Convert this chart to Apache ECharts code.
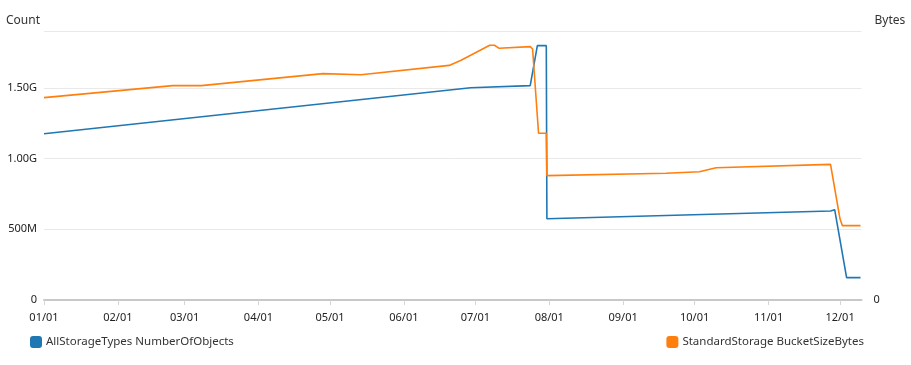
<!DOCTYPE html>
<html>
<head>
<meta charset="utf-8">
<script src="https://cdn.jsdelivr.net/npm/echarts@6/dist/echarts.min.js"></script>
<style>html,body{margin:0;padding:0;background:#fff}#c{width:911px;height:365px}</style>
</head>
<body>
<div id="c"></div>
<script>
const seriesNames = ['AllStorageTypes NumberOfObjects', 'StandardStorage BucketSizeBytes'];
const yTicks = ['0', '500M', '1.00G', '1.50G'];

const objectsDates = ['2023-01-01','2023-06-29','2023-07-24','2023-07-27','2023-07-30 18:00','2023-07-31','2023-11-27','2023-11-28 18:00','2023-12-03 18:00','2023-12-09 14:00'];
const objectsValues = [1.177e9,1.502e9,1.517e9,1.800e9,1.800e9,0.575e9,0.630e9,0.639e9,0.158e9,0.158e9];

const bytesDates = ['2023-01-01','2023-02-24','2023-03-08','2023-04-28','2023-05-14','2023-06-20','2023-06-25','2023-07-07','2023-07-09','2023-07-11','2023-07-24','2023-07-25','2023-07-27 12:00','2023-07-30 18:00','2023-07-31','2023-09-19','2023-10-03','2023-10-10','2023-11-27','2023-12-01','2023-12-02','2023-12-09 14:00'];
const bytesValues = [1.432e9,1.517e9,1.517e9,1.602e9,1.594e9,1.660e9,1.696e9,1.803e9,1.803e9,1.781e9,1.793e9,1.776e9,1.180e9,1.180e9,0.880e9,0.897e9,0.908e9,0.936e9,0.960e9,0.573e9,0.526e9,0.526e9];

const pairs = (d, v) => d.map((x, i) => [x, v[i]]);
const fmtY = v => { const i = Math.round(v / 5e8); return yTicks[i] !== undefined ? yTicks[i] : ''; };
const font = 'Noto Sans, sans-serif';

const chart = echarts.init(document.getElementById('c'));
chart.setOption({
  animation: false,
  textStyle: { fontFamily: font },
  grid: { left: 44, right: 49.5, top: 31.5, bottom: 65 },
  xAxis: {
    type: 'time',
    min: '2023-01-01',
    max: '2023-12-10',
    minInterval: 28 * 86400000,
    maxInterval: 31 * 86400000,
    axisLine: { lineStyle: { color: '#c8c8c8', width: 2 } },
    axisTick: { show: true, length: 5, lineStyle: { color: '#d5d5d5' } },
    axisLabel: { color: '#222', fontSize: 11, margin: 12, fontFamily: font, hideOverlap: false,
      formatter: v => echarts.time.format(v, '{MM}/{dd}', false) },
    splitLine: { show: false }
  },
  yAxis: [{
    type: 'value', min: 0, max: 1.9e9, interval: 5e8, position: 'left',
    name: 'Count', nameLocation: 'end', nameGap: 5,
    nameTextStyle: { color: '#333', fontSize: 12, align: 'right', padding: [0, 4, 0, 0], fontFamily: font },
    axisLine: { show: false }, axisTick: { show: false },
    axisLabel: { color: '#222', fontSize: 11, margin: 7, formatter: fmtY, fontFamily: font },
    splitLine: { lineStyle: { color: '#e9e9e9', width: 1 } }
  }, {
    type: 'value', min: 0, max: 1.9e9, interval: 5e8, position: 'right',
    name: 'Bytes', nameLocation: 'end', nameGap: 5,
    nameTextStyle: { color: '#333', fontSize: 12, align: 'left', padding: [0, 0, 0, 13], fontFamily: font },
    axisLine: { show: false }, axisTick: { show: false },
    axisLabel: { color: '#222', fontSize: 11, margin: 12, formatter: v => v === 0 ? '0' : '', fontFamily: font },
    splitLine: { show: false }
  }],
  legend: [{
    data: [seriesNames[0]], left: 30, top: 336, padding: 0, icon: 'roundRect', itemWidth: 12, itemHeight: 12, itemGap: 4,
    textStyle: { color: '#333', fontSize: 11.5, fontFamily: font, padding: [0, 0, 0, -1] }, selectedMode: false
  }, {
    data: [seriesNames[1]], right: 47, top: 336, padding: 0, icon: 'roundRect', itemWidth: 12, itemHeight: 12, itemGap: 4,
    textStyle: { color: '#333', fontSize: 11.5, fontFamily: font, padding: [0, 0, 0, -1] }, selectedMode: false
  }],
  series: [{
    name: seriesNames[0], type: 'line', yAxisIndex: 0, showSymbol: false, symbol: 'none',
    data: pairs(objectsDates, objectsValues),
    lineStyle: { color: '#1f77b4', width: 1.6 }, itemStyle: { color: '#1f77b4' }
  }, {
    name: seriesNames[1], type: 'line', yAxisIndex: 1, showSymbol: false, symbol: 'none',
    data: pairs(bytesDates, bytesValues),
    lineStyle: { color: '#ff7f0e', width: 1.6 }, itemStyle: { color: '#ff7f0e' }
  }]
});
</script>
</body>
</html>
